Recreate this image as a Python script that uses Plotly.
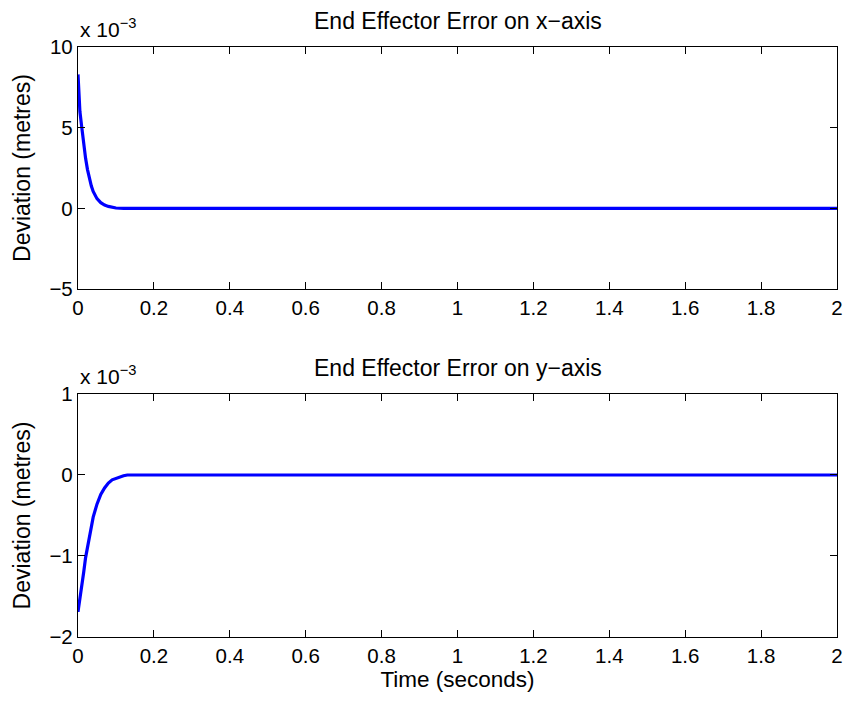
import plotly.graph_objects as go

# Data (deviation in metres)
t_x = [0, 0.005, 0.01, 0.015, 0.02, 0.025, 0.03, 0.035, 0.04, 0.045, 0.05, 0.06, 0.07, 0.08, 0.09, 0.1, 0.12, 0.15, 2.0]
err_x = [8.3e-3, 6.0e-3, 5.0e-3, 3.9e-3, 3.1e-3, 2.4e-3, 1.8e-3, 1.4e-3, 1.05e-3, 0.8e-3, 0.6e-3, 0.35e-3, 0.2e-3, 0.12e-3, 0.07e-3, 0.02e-3, 0.0, 0.0, 0.0]

t_y = [0, 0.005, 0.01, 0.015, 0.02, 0.025, 0.03, 0.04, 0.05, 0.06, 0.07, 0.08, 0.09, 0.1, 0.11, 0.12, 0.13, 0.15, 2.0]
err_y = [-1.69e-3, -1.5e-3, -1.38e-3, -1.2e-3, -1.02e-3, -0.88e-3, -0.75e-3, -0.52e-3, -0.36e-3, -0.24e-3, -0.16e-3, -0.1e-3, -0.06e-3, -0.04e-3, -0.02e-3, -0.01e-3, 0.0, 0.0, 0.0]

x_ticks = [0, 0.2, 0.4, 0.6, 0.8, 1, 1.2, 1.4, 1.6, 1.8, 2]
x_ticktext = ["0", "0.2", "0.4", "0.6", "0.8", "1", "1.2", "1.4", "1.6", "1.8", "2"]
y1_ticks = [-5e-3, 0, 5e-3, 10e-3]
y1_ticktext = ["\u22125", "0", "5", "10"]
y2_ticks = [-2e-3, -1e-3, 0, 1e-3]
y2_ticktext = ["\u22122", "\u22121", "0", "1"]

titles = ["End Effector Error on x\u2212axis", "End Effector Error on y\u2212axis"]
ylabel = "Deviation (metres)"
xlabel = "Time (seconds)"

FONT = "Liberation Sans, Arial, Helvetica, sans-serif"
BLUE = "#0000FF"

fig = go.Figure()
fig.add_trace(go.Scatter(x=t_x, y=err_x, mode="lines", line=dict(color=BLUE, width=3.2),
                         xaxis="x", yaxis="y", showlegend=False))
fig.add_trace(go.Scatter(x=t_y, y=err_y, mode="lines", line=dict(color=BLUE, width=3.2),
                         xaxis="x2", yaxis="y2", showlegend=False))

axis_common = dict(showline=True, linecolor="black", linewidth=1.3, mirror="ticks",
                   ticks="inside", ticklen=7, tickcolor="black", tickwidth=1,
                   showgrid=False, zeroline=False, automargin=False,
                   tickfont=dict(family=FONT, size=20.5, color="black"))

top_dom = [0.5898, 1.0]
bot_dom = [0.0, 0.4119]

fig.update_layout(
    width=847, height=703,
    margin=dict(l=78, r=10, t=47, b=66),
    paper_bgcolor="white", plot_bgcolor="white",
    font=dict(family=FONT, color="black"),
    xaxis=dict(domain=[0, 1], anchor="y", range=[0, 2], tickvals=x_ticks, ticktext=x_ticktext, **axis_common),
    yaxis=dict(domain=top_dom, anchor="x", range=[-5e-3, 10e-3], tickvals=y1_ticks, ticktext=y1_ticktext,
               title=dict(text=ylabel, font=dict(family=FONT, size=23), standoff=12), **axis_common),
    xaxis2=dict(domain=[0, 1], anchor="y2", range=[0, 2], tickvals=x_ticks, ticktext=x_ticktext,
                title=dict(text=xlabel, font=dict(family=FONT, size=22.5), standoff=4), **axis_common),
    yaxis2=dict(domain=bot_dom, anchor="x2", range=[-2e-3, 1e-3], tickvals=y2_ticks, ticktext=y2_ticktext,
                title=dict(text=ylabel, font=dict(family=FONT, size=23), standoff=12), **axis_common),
)

for dom, title in [(top_dom, titles[0]), (bot_dom, titles[1])]:
    fig.add_annotation(text=title, xref="paper", yref="paper", x=0.5, y=dom[1], yshift=11,
                       xanchor="center", yanchor="bottom", showarrow=False,
                       font=dict(family=FONT, size=23, color="black"))
    fig.add_annotation(text="x 10<sup>\u22123</sup>", xref="paper", yref="paper", x=0, y=dom[1], yshift=4,
                       xanchor="left", yanchor="bottom", showarrow=False,
                       font=dict(family=FONT, size=21, color="black"))

fig.write_html("out.html")
